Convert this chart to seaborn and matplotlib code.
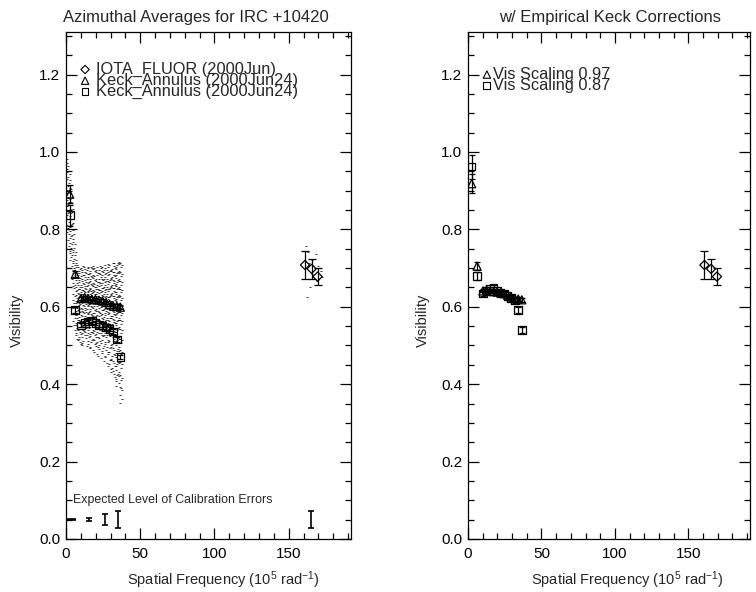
import numpy as np
import matplotlib
matplotlib.use("Agg")
import matplotlib.pyplot as plt
from matplotlib.ticker import MultipleLocator, FixedLocator
import seaborn as sns

# ---------------- data ----------------
keck_u = [2.5, 6.2, 10.2, 12.6, 15.0, 17.4, 19.8, 22.2, 24.6, 27.0, 29.4, 31.8, 34.2, 36.6]
tri_v = [0.891, 0.684, 0.622, 0.624, 0.621, 0.620, 0.619, 0.617, 0.615, 0.611, 0.606, 0.602, 0.601, 0.599]
tri_err = [0.023, 0.008, 0.004, 0.004, 0.004, 0.004, 0.004, 0.004, 0.004, 0.004, 0.005, 0.005, 0.005, 0.005]
sq_v = [0.837, 0.592, 0.552, 0.558, 0.562, 0.565, 0.558, 0.553, 0.552, 0.546, 0.542, 0.536, 0.515, 0.470]
sq_err = [0.027, 0.008, 0.005, 0.005, 0.005, 0.005, 0.005, 0.005, 0.005, 0.005, 0.005, 0.006, 0.006, 0.006]

tri_right = [0.918, 0.705, 0.641, 0.643, 0.640, 0.639, 0.638, 0.636, 0.634, 0.630, 0.625, 0.621, 0.620, 0.618]
tri_right_err = [0.024, 0.010, 0.004, 0.004, 0.004, 0.004, 0.004, 0.004, 0.004, 0.004, 0.005, 0.005, 0.005, 0.005]
sq_right = [0.962, 0.680, 0.634, 0.641, 0.646, 0.649, 0.641, 0.636, 0.634, 0.628, 0.623, 0.616, 0.592, 0.540]
sq_right_err = [0.031, 0.010, 0.006, 0.006, 0.006, 0.006, 0.006, 0.006, 0.006, 0.006, 0.006, 0.007, 0.007, 0.007]

iota_u = [161.0, 165.5, 169.5]
iota_v = [0.708, 0.698, 0.678]
iota_err = [0.037, 0.025, 0.021]

cal_u = [3.5, 15.5, 26.5, 35.0, 165.0]
cal_v = [0.05, 0.05, 0.05, 0.05, 0.05]
cal_err = [0.001, 0.004, 0.014, 0.022, 0.022]

# raw azimuthal samples (one spatial frequency per column, visibilities per column)
cloud_u = [0.5, 1.0, 1.5, 2.0, 2.5, 3.0, 3.5, 4.0, 4.5, 5.0, 5.5, 6.0, 6.5, 7.0, 7.5,
           8.0, 9.5, 8.5, 10.0, 9.0,
           10.5, 12.0, 11.0, 12.5, 11.5,
           13.0, 14.5, 13.5, 15.0, 14.0,
           15.5, 17.0, 16.0, 17.5, 16.5,
           18.0, 19.5, 18.5, 20.0, 19.0,
           20.5, 22.0, 21.0, 22.5, 21.5,
           23.0, 24.5, 23.5, 25.0, 24.0,
           25.5, 27.0, 26.0, 27.5, 26.5,
           28.0, 29.5, 28.5, 30.0, 29.0,
           30.5, 32.0, 31.0, 32.5, 31.5,
           33.0, 34.5, 33.5, 35.0, 34.0,
           35.5, 37.0, 36.0, 37.5, 36.5]
cloud_v = [
    [0.972, 0.948, 0.915, 0.893, 0.861, 0.838, 0.812],
    [0.981, 0.957, 0.929, 0.902, 0.877, 0.851, 0.826, 0.794],
    [0.963, 0.936, 0.911, 0.884, 0.866, 0.842, 0.803, 0.772],
    [0.952, 0.921, 0.897, 0.871, 0.846, 0.819, 0.788, 0.756],
    [0.944, 0.908, 0.879, 0.853, 0.826, 0.797, 0.764, 0.738],
    [0.927, 0.893, 0.862, 0.834, 0.807, 0.779, 0.745, 0.721],
    [0.905, 0.871, 0.842, 0.811, 0.783, 0.752, 0.728],
    [0.884, 0.846, 0.813, 0.786, 0.761, 0.733, 0.706, 0.672],
    [0.853, 0.798, 0.768, 0.741, 0.712, 0.687, 0.653, 0.618],
    [0.817, 0.776, 0.747, 0.719, 0.694, 0.661, 0.634, 0.597, 0.563],
    [0.788, 0.752, 0.723, 0.701, 0.676, 0.648, 0.611, 0.584, 0.552],
    [0.763, 0.734, 0.708, 0.683, 0.655, 0.627, 0.603, 0.571, 0.541],
    [0.742, 0.713, 0.691, 0.668, 0.641, 0.616, 0.588, 0.559, 0.532],
    [0.721, 0.702, 0.677, 0.652, 0.631, 0.609, 0.579, 0.553, 0.526],
    [0.709, 0.688, 0.662, 0.643, 0.622, 0.598, 0.571, 0.545, 0.518],
    [0.703, 0.681, 0.657, 0.636, 0.614, 0.591, 0.566, 0.539, 0.514],
    [0.698, 0.674, 0.652, 0.629, 0.607, 0.586, 0.562, 0.534, 0.509],
    [0.692, 0.668, 0.646, 0.633, 0.611, 0.593, 0.574, 0.548, 0.521],
    [0.701, 0.679, 0.655, 0.638, 0.619, 0.597, 0.578, 0.556, 0.529, 0.505],
    [0.687, 0.664, 0.647, 0.626, 0.604, 0.588, 0.567, 0.543, 0.516],
    [0.695, 0.672, 0.651, 0.634, 0.613, 0.595, 0.575, 0.551, 0.531, 0.507],
    [0.704, 0.683, 0.659, 0.641, 0.623, 0.602, 0.583, 0.561, 0.538],
    [0.689, 0.667, 0.644, 0.628, 0.609, 0.589, 0.569, 0.547, 0.523, 0.502],
    [0.697, 0.676, 0.654, 0.637, 0.616, 0.598, 0.577, 0.558, 0.535],
    [0.706, 0.681, 0.661, 0.643, 0.625, 0.604, 0.586, 0.564, 0.541, 0.512],
    [0.691, 0.669, 0.648, 0.631, 0.612, 0.592, 0.571, 0.549, 0.527],
    [0.699, 0.677, 0.657, 0.639, 0.618, 0.601, 0.581, 0.557, 0.533, 0.504],
    [0.688, 0.665, 0.645, 0.627, 0.606, 0.587, 0.566, 0.544, 0.519],
    [0.702, 0.684, 0.662, 0.642, 0.624, 0.605, 0.584, 0.563, 0.539, 0.511],
    [0.694, 0.671, 0.653, 0.632, 0.615, 0.594, 0.573, 0.552, 0.528, 0.499],
    [0.686, 0.663, 0.643, 0.625, 0.608, 0.586, 0.568, 0.546, 0.521],
    [0.703, 0.679, 0.658, 0.640, 0.621, 0.603, 0.582, 0.559, 0.536, 0.508],
    [0.693, 0.671, 0.649, 0.633, 0.611, 0.593, 0.572, 0.553, 0.529, 0.497],
    [0.699, 0.676, 0.655, 0.636, 0.619, 0.599, 0.579, 0.557, 0.534, 0.513],
    [0.688, 0.666, 0.646, 0.628, 0.607, 0.589, 0.568, 0.547, 0.524, 0.494],
    [0.705, 0.682, 0.661, 0.644, 0.623, 0.606, 0.585, 0.562, 0.541, 0.517],
    [0.692, 0.668, 0.651, 0.632, 0.613, 0.591, 0.574, 0.551, 0.527, 0.503],
    [0.697, 0.675, 0.654, 0.638, 0.617, 0.598, 0.577, 0.555, 0.532, 0.489],
    [0.689, 0.667, 0.647, 0.627, 0.609, 0.588, 0.566, 0.545, 0.522, 0.506],
    [0.701, 0.679, 0.659, 0.641, 0.622, 0.602, 0.583, 0.561, 0.538, 0.515, 0.484],
    [0.694, 0.672, 0.652, 0.634, 0.614, 0.595, 0.575, 0.553, 0.529, 0.498],
    [0.687, 0.664, 0.644, 0.626, 0.606, 0.587, 0.565, 0.543, 0.519, 0.491],
    [0.703, 0.681, 0.657, 0.639, 0.621, 0.601, 0.579, 0.558, 0.535, 0.509, 0.478],
    [0.696, 0.673, 0.653, 0.635, 0.616, 0.596, 0.576, 0.554, 0.531, 0.502],
    [0.688, 0.665, 0.646, 0.629, 0.608, 0.589, 0.567, 0.546, 0.523, 0.495, 0.472],
    [0.706, 0.684, 0.662, 0.643, 0.624, 0.604, 0.584, 0.563, 0.539, 0.512],
    [0.693, 0.671, 0.649, 0.631, 0.612, 0.592, 0.571, 0.549, 0.526, 0.487],
    [0.699, 0.677, 0.656, 0.637, 0.618, 0.599, 0.578, 0.556, 0.533, 0.506, 0.468],
    [0.691, 0.668, 0.648, 0.628, 0.609, 0.591, 0.569, 0.548, 0.524, 0.493],
    [0.704, 0.682, 0.661, 0.642, 0.623, 0.603, 0.582, 0.561, 0.537, 0.514, 0.481],
    [0.695, 0.673, 0.651, 0.633, 0.614, 0.594, 0.574, 0.552, 0.528, 0.499, 0.461],
    [0.688, 0.666, 0.645, 0.627, 0.607, 0.588, 0.566, 0.544, 0.521, 0.489],
    [0.707, 0.685, 0.663, 0.644, 0.625, 0.605, 0.585, 0.564, 0.541, 0.508, 0.474],
    [0.694, 0.672, 0.652, 0.632, 0.613, 0.593, 0.572, 0.551, 0.527, 0.497, 0.455],
    [0.699, 0.676, 0.655, 0.638, 0.617, 0.598, 0.578, 0.557, 0.532, 0.503, 0.469],
    [0.711, 0.689, 0.667, 0.647, 0.626, 0.606, 0.586, 0.565, 0.542, 0.515, 0.483, 0.446],
    [0.692, 0.669, 0.649, 0.629, 0.611, 0.591, 0.571, 0.549, 0.524, 0.494, 0.462],
    [0.703, 0.681, 0.659, 0.641, 0.621, 0.601, 0.581, 0.559, 0.536, 0.509, 0.477],
    [0.696, 0.674, 0.653, 0.634, 0.615, 0.596, 0.575, 0.553, 0.529, 0.501, 0.466, 0.438],
    [0.708, 0.686, 0.664, 0.645, 0.624, 0.604, 0.584, 0.563, 0.539, 0.512, 0.482, 0.451],
    [0.693, 0.671, 0.651, 0.631, 0.612, 0.592, 0.572, 0.551, 0.526, 0.497, 0.463, 0.431],
    [0.712, 0.689, 0.667, 0.648, 0.628, 0.607, 0.587, 0.566, 0.543, 0.518, 0.489, 0.456],
    [0.698, 0.676, 0.656, 0.636, 0.616, 0.597, 0.577, 0.555, 0.531, 0.505, 0.473, 0.442],
    [0.705, 0.683, 0.661, 0.642, 0.622, 0.602, 0.582, 0.561, 0.537, 0.511, 0.479, 0.426],
    [0.714, 0.691, 0.669, 0.649, 0.629, 0.609, 0.589, 0.568, 0.545, 0.521, 0.493, 0.461, 0.435],
    [0.701, 0.679, 0.657, 0.638, 0.618, 0.599, 0.579, 0.557, 0.534, 0.508, 0.476, 0.447, 0.418],
    [0.709, 0.687, 0.665, 0.645, 0.625, 0.605, 0.585, 0.564, 0.541, 0.515, 0.486, 0.452, 0.423],
    [0.697, 0.674, 0.653, 0.633, 0.614, 0.594, 0.574, 0.552, 0.528, 0.501, 0.469, 0.437, 0.408],
    [0.713, 0.691, 0.668, 0.648, 0.627, 0.607, 0.587, 0.566, 0.544, 0.519, 0.491, 0.458, 0.427],
    [0.704, 0.681, 0.659, 0.639, 0.619, 0.601, 0.581, 0.559, 0.536, 0.511, 0.481, 0.446, 0.414, 0.396],
    [0.711, 0.688, 0.666, 0.646, 0.626, 0.606, 0.586, 0.565, 0.542, 0.516, 0.487, 0.455, 0.421],
    [0.702, 0.679, 0.657, 0.637, 0.617, 0.598, 0.578, 0.556, 0.533, 0.507, 0.477, 0.443, 0.411, 0.389],
    [0.715, 0.693, 0.671, 0.651, 0.631, 0.611, 0.591, 0.571, 0.549, 0.524, 0.497, 0.466, 0.432, 0.402],
    [0.708, 0.685, 0.663, 0.643, 0.623, 0.603, 0.583, 0.562, 0.539, 0.513, 0.484, 0.451, 0.417, 0.386, 0.362],
    [0.712, 0.689, 0.667, 0.647, 0.627, 0.607, 0.587, 0.566, 0.543, 0.518, 0.489, 0.458, 0.424, 0.393, 0.371, 0.352],
]
iota_raw_u = [161.5, 163.0, 164.5, 166.0, 168.5, 170.0, 171.5, 162.5, 165.5, 169.0, 172.5, 163.5]
iota_raw_v = [0.758, 0.742, 0.652, 0.721, 0.736, 0.705, 0.692, 0.625, 0.684, 0.667, 0.678, 0.712]

x_ticks = [0, 50, 100, 150]
y_ticks = [0.0, 0.2, 0.4, 0.6, 0.8, 1.0, 1.2]
y_ticklabels = ["0.0", "0.2", "0.4", "0.6", "0.8", "1.0", "1.2"]

# ---------------- style ----------------
sns.set_theme(style="ticks")
plt.rcParams["font.family"] = ["Liberation Sans", "DejaVu Sans"]
plt.rcParams["mathtext.fontset"] = "custom"
plt.rcParams["mathtext.rm"] = "Liberation Sans"
plt.rcParams["mathtext.it"] = "Liberation Sans:italic"
plt.rcParams["mathtext.bf"] = "Liberation Sans:bold"

fig = plt.figure(figsize=(7.56, 5.92), dpi=100)
ax1 = fig.add_axes([66 / 756, 53 / 592, 285 / 756, 507 / 592])
ax2 = fig.add_axes([468 / 756, 53 / 592, 282 / 756, 507 / 592])

LW = 0.9
TICK_FS = 11
LEG_FS = 11.8


def style_axes(ax, title, title_x, xlab_x, ylab_x):
    ax.set_xlim(0, 192)
    ax.set_ylim(0, 1.31)
    ax.xaxis.set_major_locator(FixedLocator(x_ticks))
    ax.xaxis.set_minor_locator(MultipleLocator(10))
    ax.yaxis.set_major_locator(FixedLocator(y_ticks))
    ax.set_yticklabels(y_ticklabels)
    ax.yaxis.set_minor_locator(MultipleLocator(0.05))
    ax.tick_params(which="both", direction="in", top=True, right=True,
                   colors="black", width=LW, labelsize=TICK_FS)
    ax.tick_params(axis="x", which="major", pad=6)
    ax.tick_params(axis="y", which="major", pad=4)
    ax.tick_params(which="major", length=8)
    ax.tick_params(which="minor", length=4)
    for s in ax.spines.values():
        s.set_color("black")
        s.set_linewidth(LW)
    ax.set_facecolor("white")
    ax.set_xlabel(r"Spatial Frequency (10$^{5}$ rad$^{-1}$)", fontsize=10.5)
    ax.xaxis.set_label_coords(xlab_x, -0.060, transform=ax.transAxes)
    ax.set_ylabel("Visibility", fontsize=10.5)
    ax.yaxis.set_label_coords(ylab_x, 0.432, transform=ax.transAxes)
    ax.set_title(title, fontsize=12, pad=7, x=title_x)


def open_markers(ax, x, y, marker, s):
    sns.scatterplot(x=x, y=y, marker=marker, s=s, facecolors="none",
                    edgecolor="black", linewidth=LW, ax=ax, legend=False, zorder=4)


def errbars(ax, x, y, e, cap=2.2):
    ax.errorbar(x, y, yerr=e, fmt="none", ecolor="black", elinewidth=LW,
                capsize=cap, capthick=LW, zorder=3)


# ---------------- left panel ----------------
cu = [u for u, col in zip(cloud_u, cloud_v) for _ in col] + iota_raw_u
cv = [v for col in cloud_v for v in col] + iota_raw_v
sns.scatterplot(x=cu, y=cv, marker="_", s=2.2, color="black", linewidth=0.55,
                ax=ax1, legend=False, zorder=2)

errbars(ax1, keck_u, tri_v, tri_err)
errbars(ax1, keck_u, sq_v, sq_err)
errbars(ax1, iota_u, iota_v, iota_err, cap=2.6)
open_markers(ax1, keck_u, tri_v, "^", 34)
open_markers(ax1, keck_u, sq_v, "s", 30)
open_markers(ax1, iota_u, iota_v, "D", 22)

for u, v, e in zip(cal_u, cal_v, cal_err):
    cap = 3.3 if e < 0.002 else 2.2
    ax1.errorbar([u], [v], yerr=[e], fmt="none", ecolor="black", elinewidth=1.2,
                 capsize=cap, capthick=1.2)
ax1.text(0.025, 0.077, "Expected Level of Calibration Errors", transform=ax1.transAxes,
         fontsize=8.9, ha="left", va="center")

leg1 = [("D", "IOTA_FLUOR (2000Jun)", 0.926, 18),
        ("^", "Keck_Annulus (2000Jun24)", 0.904, 28),
        ("s", "Keck_Annulus (2000Jun24)", 0.882, 24)]
for m, lab, yy, s in leg1:
    ax1.scatter([0.067], [yy], marker=m, s=s, facecolors="none", edgecolors="black",
                linewidths=0.8, transform=ax1.transAxes, clip_on=False)
    ax1.text(0.105, yy, lab, transform=ax1.transAxes, fontsize=LEG_FS, ha="left", va="center")

style_axes(ax1, "Azimuthal Averages for IRC +10420", 0.456, 0.551, -0.149)

# ---------------- right panel ----------------
errbars(ax2, keck_u, tri_right, tri_right_err)
errbars(ax2, keck_u, sq_right, sq_right_err)
errbars(ax2, iota_u, iota_v, iota_err, cap=2.6)
open_markers(ax2, keck_u, tri_right, "^", 34)
open_markers(ax2, keck_u, sq_right, "s", 30)
open_markers(ax2, iota_u, iota_v, "D", 22)

leg2 = [("^", "Vis Scaling 0.97", 0.916, 28),
        ("s", "Vis Scaling 0.87", 0.894, 24)]
for m, lab, yy, s in leg2:
    ax2.scatter([0.067], [yy], marker=m, s=s, facecolors="none", edgecolors="black",
                linewidths=0.8, transform=ax2.transAxes, clip_on=False)
    ax2.text(0.088, yy, lab, transform=ax2.transAxes, fontsize=LEG_FS, ha="left", va="center")

style_axes(ax2, "w/ Empirical Keck Corrections", 0.504, 0.564, -0.135)

fig.savefig("out.png", dpi=100, facecolor="white")
